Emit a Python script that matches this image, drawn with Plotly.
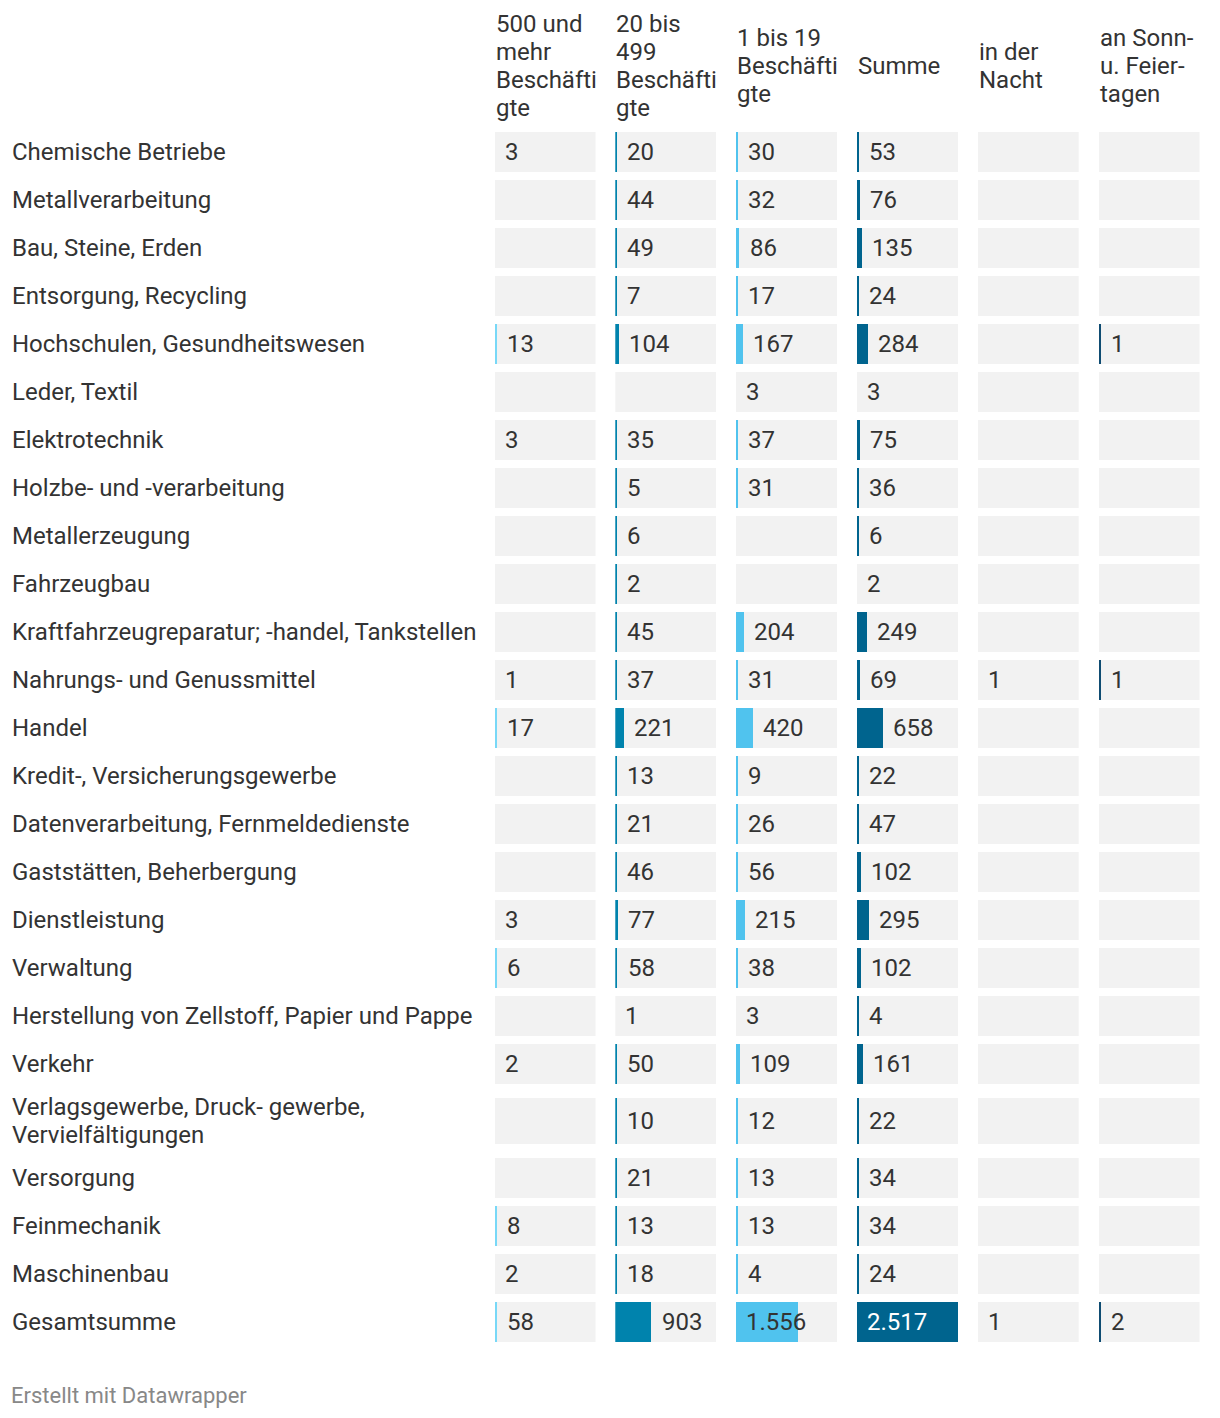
import plotly.graph_objects as go

# ---- data -------------------------------------------------------------
branchen = [
    "Chemische Betriebe", "Metallverarbeitung", "Bau, Steine, Erden",
    "Entsorgung, Recycling", "Hochschulen, Gesundheitswesen", "Leder, Textil",
    "Elektrotechnik", "Holzbe- und -verarbeitung", "Metallerzeugung",
    "Fahrzeugbau", "Kraftfahrzeugreparatur; -handel, Tankstellen",
    "Nahrungs- und Genussmittel", "Handel", "Kredit-, Versicherungsgewerbe",
    "Datenverarbeitung, Fernmeldedienste", "Gaststätten, Beherbergung",
    "Dienstleistung", "Verwaltung", "Herstellung von Zellstoff, Papier und Pappe",
    "Verkehr", "Verlagsgewerbe, Druck- gewerbe,<br>Vervielfältigungen",
    "Versorgung", "Feinmechanik", "Maschinenbau", "Gesamtsumme",
]

headers = [
    "500 und<br>mehr<br>Beschäfti<br>gte",
    "20 bis<br>499<br>Beschäfti<br>gte",
    "1 bis 19<br>Beschäfti<br>gte",
    "Summe",
    "in der<br>Nacht",
    "an Sonn-<br>u. Feier-<br>tagen",
]

N = None
ab_500 = [3, N, N, N, 13, N, 3, N, N, N, N, 1, 17, N, N, N, 3, 6, N, 2, N, N, 8, 2, 58]
ab_20 = [20, 44, 49, 7, 104, N, 35, 5, 6, 2, 45, 37, 221, 13, 21, 46, 77, 58, 1, 50, 10, 21, 13, 18, 903]
ab_1 = [30, 32, 86, 17, 167, 3, 37, 31, N, N, 204, 31, 420, 9, 26, 56, 215, 38, 3, 109, 12, 13, 13, 4, 1556]
summe = [53, 76, 135, 24, 284, 3, 75, 36, 6, 2, 249, 69, 658, 22, 47, 102, 295, 102, 4, 161, 22, 34, 34, 24, 2517]
nacht = [N] * 11 + [1] + [N] * 12 + [1]
sonntag = [N] * 4 + [1] + [N] * 6 + [1] + [N] * 12 + [2]

columns = [ab_500, ab_20, ab_1, summe, nacht, sonntag]

# ---- style ------------------------------------------------------------
W, H = 1220, 1418
PAGE = 8  # browser body margin, the figure starts at (8, 8) on the page
FONT = "Roboto, Arial, sans-serif"
FS = 24
LINE = 28
TEXT = "#333333"
CELL_BG = "#f2f2f2"
col_style = [
    dict(color="#78d8f7", min_val=4, inside_text=TEXT),
    dict(color="#0083ad", min_val=2, inside_text="#ffffff"),
    dict(color="#50c3ee", min_val=4, inside_text=TEXT),
    dict(color="#00648e", min_val=4, inside_text="#ffffff"),
    dict(color=None, min_val=None, inside_text=TEXT),  # plain text column
    dict(color="#0f4c72", min_val=1, inside_text="#ffffff"),
]
cell_left0, cell_pitch, cell_w = 494.5 - PAGE, 120.8, 101
top0, row_h, extra_line = 128 - PAGE, 48, 18
header_mid = 66 - PAGE
min_px = 2


def fmt(v):
    return f"{v:,}".replace(",", ".")


def text_lines(text, x, y, xref="paper", size=FS, color=TEXT):
    # one annotation per line so the line height can be set
    parts = text.split("<br>")
    out = []
    for k, part in enumerate(parts):
        out.append(dict(
            text=part, xref=xref, yref="y", x=x,
            y=y + (k - (len(parts) - 1) / 2) * LINE,
            xanchor="left", yanchor="middle", showarrow=False,
            font=dict(family=FONT, size=size, color=color),
        ))
    return out


# row geometry
centers, cell_h = [], []
y = top0
for name in branchen:
    lines = name.count("<br>") + 1
    h = row_h + extra_line * (lines - 1)
    centers.append(y + h / 2)
    cell_h.append(40 + 6 * (lines - 1))
    y += h

scale_max = max(v for col in columns[:4] for v in col if v is not None)
unit_per_px = scale_max / cell_w

fig = go.Figure()
annotations = []

for i, (vals, st) in enumerate(zip(columns, col_style)):
    ax = "x" if i == 0 else f"x{i + 1}"
    # grey cell backgrounds
    fig.add_trace(go.Bar(
        x=[scale_max] * len(branchen), y=centers, width=cell_h,
        orientation="h", marker=dict(color=CELL_BG, line=dict(width=0)),
        xaxis=ax, yaxis="y", hoverinfo="skip", showlegend=False,
    ))
    bar_x, bar_y, bar_w = [], [], []
    for v, c, h in zip(vals, centers, cell_h):
        if v is None:
            continue
        shown = 0
        if st["color"] and v >= st["min_val"]:
            shown = max(v, min_px * unit_per_px)
            bar_x.append(shown)
            bar_y.append(c)
            bar_w.append(h)
        inside = shown / scale_max > 0.5
        annotations.append(dict(
            text=fmt(v), xref=ax, yref="y",
            x=0 if inside else shown, y=c, xshift=8,
            xanchor="left", yanchor="middle", showarrow=False,
            font=dict(family=FONT, size=FS,
                      color=st["inside_text"] if inside else TEXT),
        ))
    if bar_x:
        fig.add_trace(go.Bar(
            x=bar_x, y=bar_y, width=bar_w, orientation="h",
            marker=dict(color=st["color"], line=dict(width=0)),
            xaxis=ax, yaxis="y", hoverinfo="skip", showlegend=False,
        ))
    # column header
    annotations += text_lines(headers[i], (cell_left0 + i * cell_pitch - 1) / W, header_mid)

# row labels
for name, c in zip(branchen, centers):
    annotations += text_lines(name, (10 - PAGE) / W, c)

annotations += text_lines("Erstellt mit Datawrapper", (9 - PAGE) / W, 1395 - PAGE,
                          size=22, color="#888888")

layout = dict(
    width=W, height=H, margin=dict(l=0, r=0, t=0, b=0),
    paper_bgcolor="white", plot_bgcolor="white",
    barmode="overlay", bargap=0, annotations=annotations,
    yaxis=dict(range=[H, 0], domain=[0, 1], visible=False, fixedrange=True),
)
for i in range(len(columns)):
    key = "xaxis" if i == 0 else f"xaxis{i + 1}"
    left = cell_left0 + i * cell_pitch
    layout[key] = dict(
        domain=[left / W, (left + cell_w) / W], range=[0, scale_max],
        anchor="y", visible=False, fixedrange=True,
    )
fig.update_layout(**layout)

fig.write_html("out.html")
